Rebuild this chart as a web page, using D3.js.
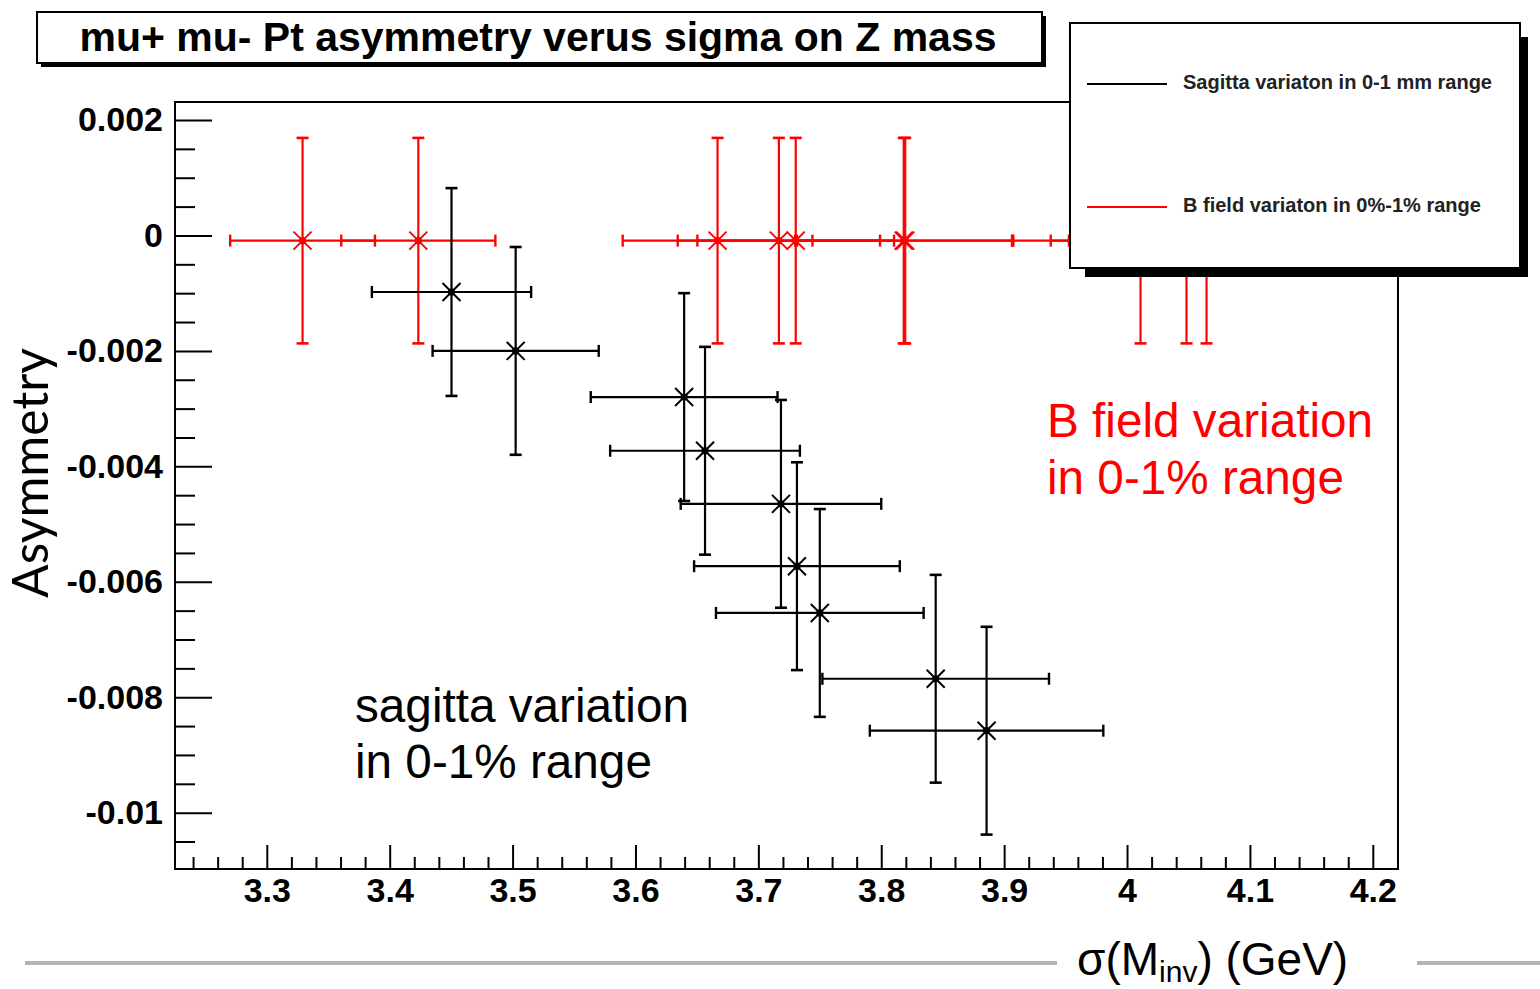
<!DOCTYPE html>
<html>
<head>
<meta charset="utf-8">
<script src="https://cdn.jsdelivr.net/npm/d3@7"></script>
<style>
  html, body { margin: 0; padding: 0; background: #fff; }
  svg { display: block; }
</style>
</head>
<body>
<svg id="chart" width="1540" height="989"></svg>
<script>
// Sagitta variation series (black): sigma(M_inv) in GeV, asymmetry, and errors
const sagittaX    = [3.4503, 3.5025, 3.6396, 3.6566, 3.7184, 3.7314, 3.7500, 3.8443, 3.8857];
const sagittaXErr = [0.0648, 0.0676, 0.0760, 0.0772, 0.0816, 0.0837, 0.0845, 0.0922, 0.0950];
const sagittaY    = [-0.00098, -0.00200, -0.00280, -0.00373, -0.00465, -0.00573, -0.00654, -0.00768, -0.00858];
const sagittaYErr = [0.0018, 0.0018, 0.0018, 0.0018, 0.0018, 0.0018, 0.0018, 0.0018, 0.0018];

// B field variation series (red)
const bfieldX    = [3.3291, 3.4233, 3.6668, 3.7167, 3.7304, 3.8183, 3.8195, 4.0110, 4.0484, 4.0647];
const bfieldXErr = [0.0589, 0.0627, 0.0772, 0.0823, 0.0800, 0.0883, 0.0880, 0.1046, 0.1105, 0.1120];
const bfieldY    = [-0.00009, -0.00009, -0.00009, -0.00009, -0.00009, -0.00009, -0.00009, -0.00009, -0.00009, -0.00009];
const bfieldYErr = [0.00178, 0.00178, 0.00178, 0.00178, 0.00178, 0.00178, 0.00178, 0.00178, 0.00178, 0.00178];

// Axes
const xDomain = [3.2253, 4.2205];
const yDomain = [0.002312, -0.010976];
const xMajorTicks = [3.3, 3.4, 3.5, 3.6, 3.7, 3.8, 3.9, 4.0, 4.1, 4.2];
const xTickLabels = ["3.3", "3.4", "3.5", "3.6", "3.7", "3.8", "3.9", "4", "4.1", "4.2"];
const yMajorTicks = [0.002, 0, -0.002, -0.004, -0.006, -0.008, -0.01];
const yTickLabels = ["0.002", "0", "-0.002", "-0.004", "-0.006", "-0.008", "-0.01"];

const titleText = "mu+ mu- Pt asymmetry verus sigma on Z mass";
const legendLabels = ["Sagitta variaton in 0-1 mm range", "B field variaton in 0%-1% range"];
const seriesColors = ["#000000", "#ff0000"];

const svg = d3.select("#chart");
const frame = { left: 175, right: 1398, top: 102, bottom: 869 };

const x = d3.scaleLinear().domain(xDomain).range([frame.left, frame.right]);
const y = d3.scaleLinear().domain(yDomain).range([frame.top, frame.bottom]);

// Minor tick positions
const xMinor = d3.range(162, 211).map(i => i / 50).filter(v => v > xDomain[0] && v < xDomain[1] && Math.abs(v * 10 - Math.round(v * 10)) > 1e-6);
const yMinor = d3.range(-22, 5).map(i => i / 2000).filter(v => v < yDomain[0] && v > yDomain[1] && Math.abs(v * 500 - Math.round(v * 500)) > 1e-6);

const axisFont = "'Liberation Sans', Arial, Helvetica, sans-serif";

// ---- Title box with drop shadow ----
svg.append("rect").attr("x", 41).attr("y", 16).attr("width", 1005).attr("height", 51).attr("fill", "#000");
svg.append("rect").attr("x", 37).attr("y", 12).attr("width", 1005).attr("height", 51)
  .attr("fill", "#fff").attr("stroke", "#000").attr("stroke-width", 2);
svg.append("text").attr("x", 538).attr("y", 51)
  .attr("text-anchor", "middle")
  .attr("font-family", axisFont).attr("font-weight", "bold").attr("font-size", 40)
  .attr("textLength", 917).attr("lengthAdjust", "spacingAndGlyphs")
  .text(titleText);

// ---- Axes ----
const gx = svg.append("g").attr("transform", `translate(0,${frame.bottom})`)
  .call(d3.axisBottom(x).tickValues(xMajorTicks).tickSizeInner(-24).tickSizeOuter(0).tickPadding(9)
    .tickFormat((d, i) => xTickLabels[i]));
gx.select(".domain").remove();
gx.selectAll("line").attr("stroke-width", 2);
gx.selectAll("text").attr("font-family", axisFont).attr("font-weight", "bold").attr("font-size", 34).attr("fill", "#000");

const gxm = svg.append("g").attr("transform", `translate(0,${frame.bottom})`)
  .call(d3.axisBottom(x).tickValues(xMinor).tickSizeInner(-12).tickSizeOuter(0).tickFormat(""));
gxm.select(".domain").remove();
gxm.selectAll("line").attr("stroke-width", 2);

const gy = svg.append("g").attr("transform", `translate(${frame.left},0)`)
  .call(d3.axisLeft(y).tickValues(yMajorTicks).tickSizeInner(-37).tickSizeOuter(0).tickPadding(12)
    .tickFormat((d, i) => yTickLabels[i]));
gy.select(".domain").remove();
gy.selectAll("line").attr("stroke-width", 2);
gy.selectAll("text").attr("font-family", axisFont).attr("font-weight", "bold").attr("font-size", 34).attr("fill", "#000");

const gym = svg.append("g").attr("transform", `translate(${frame.left},0)`)
  .call(d3.axisLeft(y).tickValues(yMinor).tickSizeInner(-20).tickSizeOuter(0).tickFormat(""));
gym.select(".domain").remove();
gym.selectAll("line").attr("stroke-width", 2);

// Plot frame
svg.append("rect").attr("x", frame.left).attr("y", frame.top)
  .attr("width", frame.right - frame.left).attr("height", frame.bottom - frame.top)
  .attr("fill", "none").attr("stroke", "#000").attr("stroke-width", 2);

// ---- Error bars with star markers ----
function drawSeries(xs, ys, xe, ye, color) {
  const pts = xs.map((v, i) => ({ x: v, y: ys[i], xe: xe[i], ye: ye[i] }));
  const g = svg.append("g").attr("stroke", color).attr("fill", color);
  const p = g.selectAll("g.pt").data(pts).join("g").attr("class", "pt");
  // horizontal bar
  p.append("line")
    .attr("x1", d => x(d.x - d.xe)).attr("x2", d => x(d.x + d.xe))
    .attr("y1", d => y(d.y)).attr("y2", d => y(d.y)).attr("stroke-width", 2.2);
  // horizontal end caps
  [-1, 1].forEach(s => {
    p.append("line")
      .attr("x1", d => x(d.x + s * d.xe)).attr("x2", d => x(d.x + s * d.xe))
      .attr("y1", d => y(d.y) - 6).attr("y2", d => y(d.y) + 6).attr("stroke-width", 2.4);
  });
  // vertical bar
  p.append("line")
    .attr("x1", d => x(d.x)).attr("x2", d => x(d.x))
    .attr("y1", d => y(d.y + d.ye)).attr("y2", d => y(d.y - d.ye)).attr("stroke-width", 2.2);
  // vertical end caps
  [-1, 1].forEach(s => {
    p.append("line")
      .attr("x1", d => x(d.x) - 6).attr("x2", d => x(d.x) + 6)
      .attr("y1", d => y(d.y + s * d.ye)).attr("y2", d => y(d.y + s * d.ye)).attr("stroke-width", 2.6);
  });
  // star marker
  [[1, 1], [1, -1]].forEach(([a, b]) => {
    p.append("line")
      .attr("x1", d => x(d.x) - 9 * a).attr("x2", d => x(d.x) + 9 * a)
      .attr("y1", d => y(d.y) - 9 * b).attr("y2", d => y(d.y) + 9 * b).attr("stroke-width", 2);
  });
  p.append("circle").attr("cx", d => x(d.x)).attr("cy", d => y(d.y)).attr("r", 3.6).attr("stroke", "none");
}

drawSeries(bfieldX, bfieldY, bfieldXErr, bfieldYErr, seriesColors[1]);
drawSeries(sagittaX, sagittaY, sagittaXErr, sagittaYErr, seriesColors[0]);

// ---- Legend box with drop shadow ----
svg.append("rect").attr("x", 1085).attr("y", 37).attr("width", 443).attr("height", 240).attr("fill", "#000");
svg.append("rect").attr("x", 1070).attr("y", 23).attr("width", 450).attr("height", 245)
  .attr("fill", "#fff").attr("stroke", "#000").attr("stroke-width", 2);
const legendRows = [84, 207];
legendLabels.forEach((lab, i) => {
  svg.append("line").attr("x1", 1087).attr("x2", 1167).attr("y1", legendRows[i]).attr("y2", legendRows[i])
    .attr("stroke", seriesColors[i]).attr("stroke-width", 2);
  svg.append("text").attr("x", 1183).attr("y", legendRows[i] + 5)
    .attr("font-family", axisFont).attr("font-weight", "bold").attr("font-size", 20)
    .attr("fill", "#222").text(lab);
});

// ---- Annotations ----
const annFont = "'Liberation Sans', Arial, sans-serif";
const bAnn = svg.append("text").attr("font-family", annFont).attr("font-size", 47.7).attr("fill", "#ff0000");
bAnn.append("tspan").attr("x", 1047).attr("y", 437).text("B field variation");
bAnn.append("tspan").attr("x", 1047).attr("y", 494).text("in 0-1% range");

const sAnn = svg.append("text").attr("font-family", annFont).attr("font-size", 47.7).attr("fill", "#000");
sAnn.append("tspan").attr("x", 355).attr("y", 722).text("sagitta variation");
sAnn.append("tspan").attr("x", 355).attr("y", 778).text("in 0-1% range");

// Y axis title
svg.append("text").attr("transform", "translate(48,473) rotate(-90)")
  .attr("text-anchor", "middle").attr("font-family", "Lato, 'Open Sans', sans-serif")
  .attr("font-size", 50).attr("textLength", 250).attr("lengthAdjust", "spacingAndGlyphs")
  .attr("fill", "#000").text("Asymmetry");

// X axis title with gray rules either side
svg.append("line").attr("x1", 25).attr("x2", 1057).attr("y1", 963).attr("y2", 963)
  .attr("stroke", "#b3b3b3").attr("stroke-width", 4);
svg.append("line").attr("x1", 1417).attr("x2", 1540).attr("y1", 963).attr("y2", 963)
  .attr("stroke", "#b3b3b3").attr("stroke-width", 4);
const xt = svg.append("text").attr("x", 1077).attr("y", 975)
  .attr("font-family", annFont).attr("font-size", 46).attr("fill", "#000");
xt.append("tspan").text("σ(M");
xt.append("tspan").attr("font-size", 30).attr("dy", 7).text("inv");
xt.append("tspan").attr("dy", -7).text(") (GeV)");
</script>
</body>
</html>
